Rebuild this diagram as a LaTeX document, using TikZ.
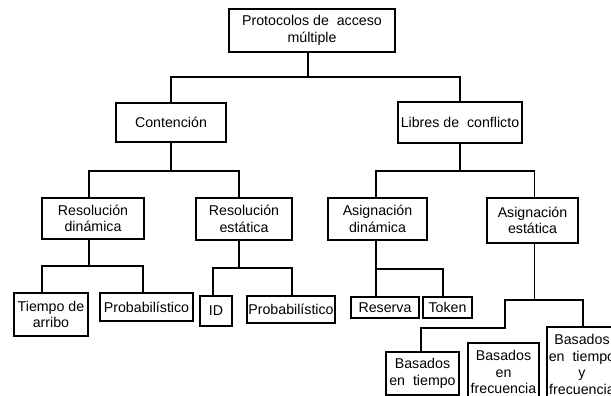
\documentclass[tikz,border=0pt]{standalone}
\usepackage{fontspec}
\setmainfont{Liberation Sans}
\begin{document}
\begin{tikzpicture}[x=1pt,y=-1pt,
  bx/.style={draw, line width=1.8pt, align=center, inner sep=0pt,
             font=\fontsize{14.2}{16.5}\selectfont},
  ln/.style={line width=1.8pt}]
\useasboundingbox (0,0) rectangle (611,396);
\clip (0,0) rectangle (611,396);
% level 0
\node[bx, minimum width=166pt, minimum height=43pt] (top) at (312,30.5) {Protocolos de~~acceso\\múltiple};
% level 1
\node[bx, minimum width=110pt, minimum height=39pt] (cont) at (171,122.5) {Contención};
\node[bx, minimum width=124pt, minimum height=41pt] (libres) at (460,122.5) {Libres de~~conflicto};
% level 2
\node[bx, minimum width=102pt, minimum height=41pt] (resd) at (93,218.5) {Resolución\\dinámica};
\node[bx, minimum width=96pt, minimum height=42pt] (rese) at (244,219) {Resolución\\estática};
\node[bx, minimum width=99pt, minimum height=42pt] (asigd) at (377.5,219) {Asignación\\dinámica};
\node[bx, minimum width=91pt, minimum height=45pt] (asige) at (532.5,220.5) {Asignación\\estática};
% level 3
\node[bx, minimum width=74pt, minimum height=43pt] (tarr) at (51,314.5) {Tiempo de\\arribo};
\node[bx, minimum width=93pt, minimum height=28pt] (prob1) at (146.5,307) {Probabilístico};
\node[bx, minimum width=32pt, minimum height=30pt] (id) at (216,311) {ID};
\node[bx, minimum width=88pt, minimum height=27pt] (prob2) at (291,309.5) {Probabilístico};
\node[bx, minimum width=68pt, minimum height=21pt] (res) at (385,307.5) {Reserva};
\node[bx, minimum width=49pt, minimum height=21pt] (tok) at (447.5,307.5) {Token};
% level 4
\node[bx, minimum width=73pt, minimum height=43pt] (bt) at (422.5,373.5) {Basados\\en~~tiempo};
\node[bx, minimum width=71pt, minimum height=58pt] (bf) at (503.5,372) {Basados\\en\\frecuencia};
\node[bx, minimum width=70pt, minimum height=75pt] (btf) at (582,364.5) {Basados\\en~~tiempo\\y\\frecuencia};
% connectors
\draw[ln] ([xshift=-4pt]top.south) -- ++(0,24) coordinate (j0);
\draw[ln] (cont.north) |- (j0) -| (libres.north);
\draw[ln] (cont.south) -- ++(0,28) coordinate (j1);
\draw[ln] ([xshift=-4pt]resd.north) |- (j1) -| ([xshift=-5pt]rese.north);
\draw[ln] (libres.south) -- ++(0,27) coordinate (j2);
\draw[ln] ([xshift=-1.5pt]asigd.north) |- (j2) -| ([xshift=2pt]asige.north);
\draw[ln] ([xshift=-4pt]resd.south) -- ++(0,26) coordinate (j3);
\draw[ln] ([xshift=-9pt]tarr.north) |- (j3) -| ([xshift=-3.5pt]prob1.north);
\draw[ln] ([xshift=-5pt]rese.south) -- ++(0,27) coordinate (j4);
\draw[ln] ([xshift=-3pt]id.north) |- (j4) -| ([xshift=1pt]prob2.north);
\draw[ln] ([xshift=-1.5pt]asigd.south) -- ++(0,28) coordinate (j5);
\draw[ln] ([xshift=-9pt]res.north) |- (j5) -| ([xshift=-4.5pt]tok.north);
\draw[ln] ([xshift=2pt]asige.south) -- ++(0,56) coordinate (j6);
\coordinate (j7) at (505,328);
\draw[ln] (j6) -| (j7) -| ([xshift=-1.5pt]bt.north);
\draw[ln] (j6) -| ([xshift=1pt]btf.north);
\end{tikzpicture}
\end{document}
